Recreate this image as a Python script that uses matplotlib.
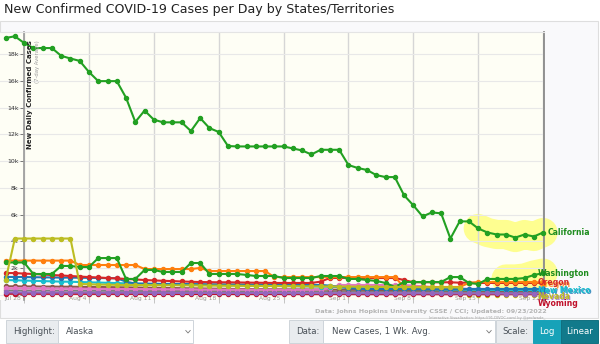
import matplotlib
matplotlib.use('Agg')
import matplotlib.pyplot as plt
from matplotlib.patches import Rectangle
from matplotlib.lines import Line2D
import numpy as np
import pandas as pd

# --- DATA (7-day avg new cases, Jul 26 .. Sep 22, 2022) ---
dates = pd.date_range('2022-07-26', '2022-09-22', freq='D')
tick_labels = ['Jul 28', 'Aug 4', 'Aug 11', 'Aug 18', 'Aug 25', 'Sep 1', 'Sep 8', 'Sep 15', 'Sep 22']
tick_dates = pd.to_datetime(['2022-07-28', '2022-08-04', '2022-08-11', '2022-08-18', '2022-08-25',
                             '2022-09-01', '2022-09-08', '2022-09-15', '2022-09-22'])

california = [19200, 19330, 18830, 18450, 18450, 18450, 17870, 17670, 17490, 16660,
              15980, 15980, 15980, 14740, 12930, 13780, 13100, 12900, 12900, 12900,
              12250, 13220, 12470, 12180, 11130, 11100, 11100, 11100, 11100, 11100,
              11100, 10950, 10800, 10500, 10850, 10850, 10850, 9710, 9490, 9340,
              8960, 8810, 8810, 7450, 6700, 5870, 6170, 6100, 4220, 5500,
              5500, 4970, 4670, 4520, 4520, 4290, 4520, 4370, 4670]
washington = [2430, 2430, 2430, 1570, 1570, 1570, 2170, 2170, 2090, 2090,
              2760, 2760, 2760, 1200, 1200, 1870, 1870, 1720, 1720, 1720,
              2390, 2390, 1570, 1570, 1570, 1570, 1500, 1420, 1420, 1420,
              1270, 1270, 1270, 1270, 1420, 1420, 1420, 1200, 1200, 1120,
              1050, 900, 600, 970, 970, 970, 970, 970, 1340, 1340,
              900, 820, 1200, 1200, 1200, 1200, 1270, 1490, 1640]
oregon = [1640, 1640, 1600, 1570, 1530, 1490, 1460, 1420, 1380, 1340,
          1310, 1270, 1240, 1200, 1160, 1120, 1090, 1060, 1040, 1010,
          990, 970, 960, 950, 950, 940, 930, 920, 910, 900,
          900, 900, 900, 900, 1000, 1270, 1270, 1270, 1270, 1270,
          1270, 1270, 1270, 1120, 950, 950, 950, 950, 950, 920,
          920, 900, 900, 900, 900, 900, 900, 900, 900]
arizona = [2570, 2570, 2570, 2570, 2570, 2570, 2570, 2570, 2240, 2240,
           2240, 2240, 2240, 2240, 2240, 1940, 1940, 1940, 1940, 1940,
           1940, 2020, 1790, 1790, 1790, 1790, 1790, 1790, 1790, 1340,
           1340, 1340, 1340, 1340, 1340, 1340, 1340, 1340, 1340, 1340,
           1340, 1340, 1340, 600, 600, 600, 600, 600, 600, 600,
           900, 970, 970, 970, 970, 970, 970, 970, 900]
colorado = [1350, 1350, 1340, 1330, 1320, 1310, 1300, 1300, 1290, 1280,
            1270, 1260, 1250, 1000, 850, 850, 840, 830, 830, 820,
            820, 810, 800, 800, 790, 790, 780, 780, 770, 770,
            760, 760, 750, 750, 750, 700, 600, 520, 480, 450,
            450, 450, 450, 450, 450, 450, 450, 450, 450, 450,
            450, 450, 450, 450, 450, 450, 450, 450, 450]
new_mexico = [1120, 1100, 1080, 1060, 1040, 1020, 1000, 990, 970, 950,
              930, 910, 890, 870, 850, 830, 810, 800, 790, 780,
              770, 760, 750, 740, 730, 720, 710, 700, 690, 680,
              670, 660, 650, 640, 630, 620, 600, 560, 520, 500,
              480, 470, 460, 450, 440, 430, 420, 410, 400, 400,
              390, 390, 380, 380, 370, 370, 370, 370, 370]
nevada = [1100, 4220, 4220, 4220, 4220, 4220, 4220, 4220, 830, 800,
          780, 770, 760, 750, 750, 740, 740, 730, 730, 720,
          720, 710, 700, 700, 690, 690, 680, 680, 670, 670,
          660, 660, 650, 650, 640, 640, 630, 630, 620, 620,
          610, 600, 600, 590, 590, 580, 580, 570, 570, 560,
          0, 0, 0, 0, 0, 0, 0, 0, 0]
utah = [500, 500, 500, 490, 490, 480, 480, 470, 470, 460,
        460, 450, 450, 450, 440, 440, 430, 430, 420, 420,
        420, 410, 410, 400, 400, 400, 400, 400, 400, 400,
        400, 400, 400, 400, 400, 500, 750, 750, 750, 750,
        750, 750, 750, 750, 700, 650, 600, 550, 500, 500,
        450, 450, 450, 450, 450, 450, 450, 450, 450]
idaho = [650, 650, 640, 640, 630, 630, 620, 620, 610, 600,
         600, 590, 580, 570, 560, 550, 540, 530, 520, 510,
         500, 490, 480, 470, 460, 450, 450, 440, 440, 430,
         430, 420, 420, 410, 410, 400, 400, 390, 390, 380,
         380, 370, 370, 360, 360, 350, 350, 340, 340, 330,
         330, 320, 320, 310, 310, 300, 300, 300, 300]
montana = [340, 340, 335, 335, 330, 330, 325, 325, 320, 320,
           315, 315, 310, 310, 305, 305, 300, 300, 295, 295,
           290, 290, 285, 285, 280, 280, 275, 275, 270, 270,
           265, 265, 260, 260, 255, 255, 250, 250, 250, 250,
           245, 245, 245, 240, 240, 240, 235, 235, 235, 230,
           230, 230, 225, 225, 225, 220, 220, 220, 220]
hawaii = [190, 190, 185, 185, 180, 180, 180, 175, 175, 175,
          170, 170, 170, 165, 165, 165, 160, 160, 160, 155,
          155, 155, 150, 150, 150, 150, 145, 145, 145, 145,
          140, 140, 140, 140, 135, 135, 135, 135, 130, 130,
          130, 130, 125, 125, 125, 125, 120, 120, 120, 120,
          115, 115, 115, 115, 110, 110, 110, 110, 110]
wyoming = [90, 90, 90, 88, 88, 86, 86, 85, 85, 84,
           84, 83, 82, 82, 81, 80, 80, 79, 78, 78,
           77, 76, 76, 75, 74, 74, 73, 72, 72, 71,
           70, 70, 69, 68, 68, 67, 66, 66, 65, 64,
           64, 63, 62, 62, 61, 60, 60, 60, 60, 60,
           60, 60, 60, 60, 60, 60, 60, 60, 60]

# --- HELPERS (figure pixel coords, 600x344) ---
W, H = 600, 344
fx = lambda px: px / W
fy = lambda py: 1 - py / H

days = (dates - dates[0]).days.values
tick_days = (tick_dates - dates[0]).days.values

fig = plt.figure(figsize=(6, 3.44), dpi=100)
fig.patch.set_facecolor('white')

# outer chart frame
fig.add_artist(Rectangle((0, fy(318)), fx(598), (318 - 21) / H, transform=fig.transFigure,
                         facecolor='#f9f9fb', edgecolor='#dedede', lw=0.8, zorder=0))

fig.text(fx(4), fy(10), 'New Confirmed COVID-19 Cases per Day by States/Territories',
         fontsize=9.1, color='#222222', va='center', ha='left')

ax = fig.add_axes([0, fy(300), fx(544), (300 - 32) / H])
ax.set_facecolor('#fefef5')
ax.set_xlim(-0.6, 58.1)
ax.set_ylim(-373, 19650)

# spines
ax.spines['bottom'].set_visible(False)
ax.spines['top'].set_color('#e4e4e4')
ax.spines['left'].set_position(('data', 2))
ax.spines['left'].set_color('#9a9a9a')
ax.spines['left'].set_linewidth(1.2)
ax.spines['right'].set_color('#8a8a8a')
ax.spines['right'].set_linewidth(1.3)

yt = list(range(0, 18001, 2000))
ax.set_yticks(yt)
ax.set_yticklabels(['0'] + [f'{v // 1000}k' for v in yt[1:]])
ax.tick_params(axis='y', length=3, width=0.6, color='#666', labelsize=4.5, labelcolor='#333', pad=1)
ax.grid(axis='y', color='#e8e8e8', lw=0.8, zorder=0)

ax.set_xticks(tick_days)
ax.set_xticklabels([])
ax.tick_params(axis='x', length=5, direction='inout', width=0.6, color='#bbb')
ax.grid(axis='x', color='#d6d6d6', lw=1.0, zorder=0)
for d, lab in zip(tick_days, tick_labels):
    ax.text(d - 0.3, 0.005, lab, transform=ax.get_xaxis_transform(), ha='right', va='center',
            fontsize=4.3, color='#999', clip_on=False)

# highlight blobs
ax.plot(days[51:], california[51:], color='#ffff66', lw=21, alpha=0.7,
        solid_capstyle='round', solid_joinstyle='round', zorder=1, clip_on=False)
ax.plot(days[54:], washington[54:], color='#ffff66', lw=21, alpha=0.7,
        solid_capstyle='round', solid_joinstyle='round', zorder=1, clip_on=False)

series = [
    (montana, '#7f7f7f'),
    (idaho, '#8c564b'),
    (utah, '#e377c2'),
    (new_mexico, '#17becf'),
    (colorado, '#1f77b4'),
    (oregon, '#d62728'),
    (arizona, '#ff7f0e'),
    (wyoming, '#c0102a'),
    (hawaii, '#9467bd'),
    (washington, '#22a022'),
    (california, '#22a022'),
]
for vals, c in series:
    ax.plot(days, vals, color=c, lw=1.5, marker='o', ms=2.9, zorder=3, clip_on=False)

# Nevada: line until data stops, then dots only
ax.plot(days[:50], nevada[:50], color='#bcbd22', lw=1.5, marker='o', ms=2.9, zorder=3, clip_on=False)
ax.plot(days[50:], nevada[50:], color='#bcbd22', ls='none', marker='o', ms=2.9, zorder=2, clip_on=False)

# end labels (crowded ones get a shadow copy in a neighbouring line colour, as in the original)
end_labels = [
    ('California', california[-1], 58.5, 0, '#1e8c1e', None),
    ('Washington', washington[-1], 57.4, 0, '#1e8c1e', None),
    ('Oregon', oregon[-1], 57.4, 0, '#d62728', '#ff7f0e'),
    ('New Mexico', new_mexico[-1], 57.4, 0, '#17becf', '#1f77b4'),
    ('Nevada', nevada[-1], 57.4, -80, '#bcbd22', '#9467bd'),
    ('Wyoming', wyoming[-1], 57.4, -660, '#c0102a', None),
]
for name, v, x, dy, c, shadow in end_labels:
    if shadow:
        ax.text(x + 0.12, v + dy - 110, name, color=shadow, fontsize=5.6, weight='bold',
                va='center', ha='left', clip_on=False, zorder=5, alpha=0.8)
    ax.text(x, v + dy, name, color=c, fontsize=5.6, weight='bold', va='center', ha='left',
            clip_on=False, zorder=6)

# axis title
fig.text(fx(30), fy(40), 'New Daily Confirmed Cases', rotation=90, ha='center', va='top',
         fontsize=5.0, weight='bold', color='#222')
fig.text(fx(37), fy(40), '(7-day Average)', rotation=90, ha='center', va='top',
         fontsize=3.8, color='#999')

# source
fig.text(fx(547), fy(311), 'Data: Johns Hopkins University CSSE / CCI; Updated: 09/23/2022',
         ha='right', va='center', fontsize=4.6, color='#b4b4b4', weight='bold')
fig.text(fx(545), fy(317.5), 'Interactive Visualization: https://91-DIVOC.com/ by @profwade_',
         ha='right', va='center', fontsize=2.6, color='#a0a0a0')

# controls row
def rect(x0, x1, fc, ec='#ced4da'):
    fig.add_artist(Rectangle((fx(x0), fy(343)), fx(x1 - x0), (343 - 320) / H,
                             transform=fig.transFigure, facecolor=fc, edgecolor=ec, lw=0.7))

def chevron(x):
    fig.add_artist(Line2D([fx(x - 2.2), fx(x), fx(x + 2.2)], [fy(330.5), fy(333), fy(330.5)],
                          transform=fig.transFigure, color='#777', lw=0.6))

rect(6, 58, '#e9ecef')
rect(58, 193, 'white')
rect(289, 323, '#e9ecef')
rect(323, 495, 'white')
rect(496, 533, '#e9ecef')
rect(533, 561, '#17a2b8', '#17a2b8')
rect(561, 598, '#117a8b', '#10707f')
chevron(188)
chevron(489)

ctl = dict(va='center', fontsize=6.2, color='#495057')
fig.text(fx(13), fy(331.5), 'Highlight:', **ctl)
fig.text(fx(66), fy(331.5), 'Alaska', **ctl)
fig.text(fx(296), fy(331.5), 'Data:', **ctl)
fig.text(fx(332), fy(331.5), 'New Cases, 1 Wk. Avg.', **ctl)
fig.text(fx(502), fy(331.5), 'Scale:', **ctl)
fig.text(fx(547), fy(331.5), 'Log', ha='center', va='center', fontsize=6.2, color='white')
fig.text(fx(579.5), fy(331.5), 'Linear', ha='center', va='center', fontsize=6.2, color='white')

fig.savefig('out.png', dpi=100)
